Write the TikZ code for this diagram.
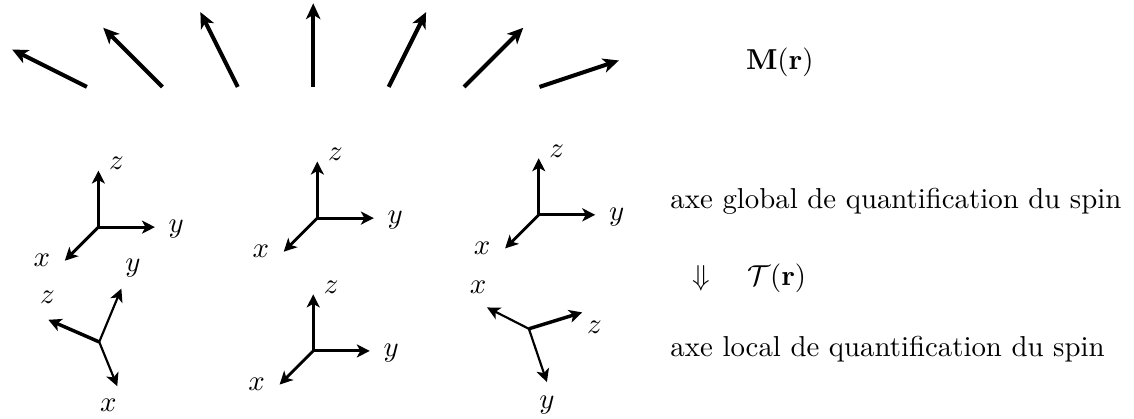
\documentclass[tikz,border=0pt]{standalone}
\usepackage{amsmath,amssymb}
\usepackage{tikz}
\usetikzlibrary{positioning,calc}
\usetikzlibrary{arrows.meta}
\tikzset{
  spin/.style={line width=1.4pt,-{Stealth[length=5.5pt,width=5pt,inset=1.5pt]}},
  axe/.style={line width=1pt,-{Stealth[length=4.5pt,width=4.5pt,inset=1.2pt]}},
  axefin/.style={axe,line width=0.75pt},
  lab/.style={inner sep=0pt},
  txt/.style={inner sep=0pt,anchor=west},
}

\begin{document}
\begin{tikzpicture}
\useasboundingbox (0,0) rectangle (13.83,5.11);
% aimantation M(r)
\foreach \i/\a in {0/153.43,1/135,2/116.57,3/90,4/63.43,5/45,6/18.43}{\coordinate(s\i)at({1.06+0.92*\i},4.05);\draw[spin](s\i)--++(\a:1.02);}
\node[lab](M)at(9.51,4.35){$\mathbf{M}(\mathbf{r})$};
% reperes globaux
\foreach \i/\ox/\oy in {1/1.20/2.34,2/3.87/2.45,3/6.57/2.49,5/3.82/0.83}{
  \coordinate(o\i)at(\ox,\oy);
  \draw[axe](o\i)--++(-0.41,-0.41);\draw[axe](o\i)--++(0.69,0);\draw[axe](o\i)--++(0,0.69);
  \node[lab](x\i)at($(o\i)+(-0.69,-0.41)$){$x$};
  \node[lab](y\i)at($(o\i)+(0.95,-0.03)$){$y$};
  \node[lab](z\i)at($(o\i)+(0.22,0.78)$){$z$};
}
% reperes locaux
\coordinate(o4)at(1.21,0.94);
\draw[axefin](o4)--++(0.22,-0.54);\draw[axefin](o4)--++(0.27,0.65);\draw[axe,line width=1.2pt](o4)--++(-0.62,0.27);
\node[lab](x4)at($(o4)+(0.11,-0.77)$){$x$};\node[lab](y4)at($(o4)+(0.41,0.90)$){$y$};\node[lab](z4)at($(o4)+(-0.63,0.54)$){$z$};
\coordinate(o6)at(6.45,1.10);
\draw[axefin](o6)--++(-0.51,0.26);\draw[axefin](o6)--++(0.22,-0.65);\draw[axe,line width=1.2pt](o6)--++(0.65,0.20);
\node[lab](x6)at($(o6)+(-0.62,0.51)$){$x$};\node[lab](y6)at($(o6)+(0.22,-0.93)$){$y$};\node[lab](z6)at($(o6)+(0.80,0.02)$){$z$};
% legende
\node[txt](glob)at(8.17,2.66){axe global de quantification du spin};
\node[txt](T)at(8.44,1.72){$\Downarrow\quad\mathcal{T}(\mathbf{r})$};
\node[txt](loc)at(8.17,0.85){axe local de quantification du spin};
\end{tikzpicture}
\end{document}
